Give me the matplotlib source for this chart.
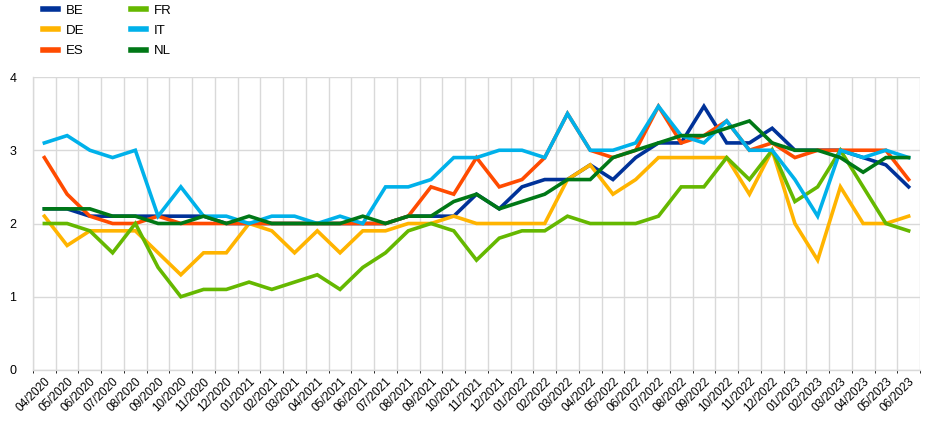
import numpy as np
import matplotlib
matplotlib.use('Agg')
import matplotlib.pyplot as plt
from matplotlib.ticker import FixedLocator

matplotlib.rcParams['font.family'] = ['Liberation Sans', 'DejaVu Sans']

# monthly labels 04/2020 .. 06/2023
months = ['04/2020', '05/2020', '06/2020', '07/2020', '08/2020', '09/2020', '10/2020', '11/2020', '12/2020',
          '01/2021', '02/2021', '03/2021', '04/2021', '05/2021', '06/2021', '07/2021', '08/2021', '09/2021',
          '10/2021', '11/2021', '12/2021', '01/2022', '02/2022', '03/2022', '04/2022', '05/2022', '06/2022',
          '07/2022', '08/2022', '09/2022', '10/2022', '11/2022', '12/2022', '01/2023', '02/2023', '03/2023',
          '04/2023', '05/2023', '06/2023']

BE = [2.2, 2.2, 2.1, 2.1, 2.1, 2.1, 2.1, 2.1, 2.0, 2.0, 2.0, 2.0, 2.0, 2.0, 2.0, 2.0, 2.1, 2.1, 2.1, 2.4,
      2.2, 2.5, 2.6, 2.6, 2.8, 2.6, 2.9, 3.1, 3.1, 3.6, 3.1, 3.1, 3.3, 3.0, 3.0, 3.0, 2.9, 2.8, 2.5]
DE = [2.1, 1.7, 1.9, 1.9, 1.9, 1.6, 1.3, 1.6, 1.6, 2.0, 1.9, 1.6, 1.9, 1.6, 1.9, 1.9, 2.0, 2.0, 2.1, 2.0,
      2.0, 2.0, 2.0, 2.6, 2.8, 2.4, 2.6, 2.9, 2.9, 2.9, 2.9, 2.4, 3.0, 2.0, 1.5, 2.5, 2.0, 2.0, 2.1]
ES = [2.9, 2.4, 2.1, 2.0, 2.0, 2.1, 2.0, 2.0, 2.0, 2.0, 2.0, 2.0, 2.0, 2.0, 2.0, 2.0, 2.1, 2.5, 2.4, 2.9,
      2.5, 2.6, 2.9, 3.5, 3.0, 2.9, 3.0, 3.6, 3.1, 3.2, 3.4, 3.0, 3.1, 2.9, 3.0, 3.0, 3.0, 3.0, 2.6]
FR = [2.0, 2.0, 1.9, 1.6, 2.0, 1.4, 1.0, 1.1, 1.1, 1.2, 1.1, 1.2, 1.3, 1.1, 1.4, 1.6, 1.9, 2.0, 1.9, 1.5,
      1.8, 1.9, 1.9, 2.1, 2.0, 2.0, 2.0, 2.1, 2.5, 2.5, 2.9, 2.6, 3.0, 2.3, 2.5, 3.0, 2.5, 2.0, 1.9]
IT = [3.1, 3.2, 3.0, 2.9, 3.0, 2.1, 2.5, 2.1, 2.1, 2.0, 2.1, 2.1, 2.0, 2.1, 2.0, 2.5, 2.5, 2.6, 2.9, 2.9,
      3.0, 3.0, 2.9, 3.5, 3.0, 3.0, 3.1, 3.6, 3.2, 3.1, 3.4, 3.0, 3.0, 2.6, 2.1, 3.0, 2.9, 3.0, 2.9]
NL = [2.2, 2.2, 2.2, 2.1, 2.1, 2.0, 2.0, 2.1, 2.0, 2.1, 2.0, 2.0, 2.0, 2.0, 2.1, 2.0, 2.1, 2.1, 2.3, 2.4,
      2.2, 2.3, 2.4, 2.6, 2.6, 2.9, 3.0, 3.1, 3.2, 3.2, 3.3, 3.4, 3.1, 3.0, 3.0, 2.9, 2.7, 2.9, 2.9]

series = [('BE', BE, '#003299'), ('DE', DE, '#ffb400'), ('ES', ES, '#ff4b00'),
          ('FR', FR, '#65b800'), ('IT', IT, '#00b1ea'), ('NL', NL, '#007816')]

grid_col = '#d9d9d9'
lw = 2.6

fig = plt.figure(figsize=(9.45, 4.26), dpi=100)
ax = fig.add_axes([33/945, 1 - 370/426, (920 - 33)/945, (370 - 77)/426])

x = np.arange(len(months))
for name, vals, col in series:
    ax.plot(x, vals, '-', color=col, linewidth=lw, label=name, solid_joinstyle='miter')

ax.set_xlim(-0.5, len(months) - 0.5)
ax.set_ylim(0, 4)
ax.set_yticks([0, 1, 2, 3, 4])
ax.set_xticks(x)
ax.set_xticklabels(months, rotation=45, ha='right', va='top', rotation_mode='anchor', fontsize=8.5)
ax.tick_params(axis='x', length=0, pad=4)
ax.tick_params(axis='y', length=0, pad=12, labelsize=9)

# vertical grid between categories, horizontal grid at integer values
ax.xaxis.set_minor_locator(FixedLocator(np.arange(-0.5, len(months), 1)))
ax.grid(axis='x', which='minor', color=grid_col, linewidth=1)
ax.grid(axis='y', which='major', color=grid_col, linewidth=1)
ax.set_axisbelow(True)
for s in ['top', 'right']:
    ax.spines[s].set_visible(False)
for s in ['left', 'bottom']:
    ax.spines[s].set_color(grid_col)
    ax.spines[s].set_linewidth(1)

leg = fig.legend(loc='upper left', bbox_to_anchor=(0.033, 1.017), ncol=2, frameon=False,
                 fontsize=9.5, handlelength=1.15, handletextpad=0.6, columnspacing=3.5,
                 labelspacing=0.6)
for h in leg.get_lines():
    h.set_linewidth(4)

plt.savefig('out.png', dpi=100)
plt.close()
